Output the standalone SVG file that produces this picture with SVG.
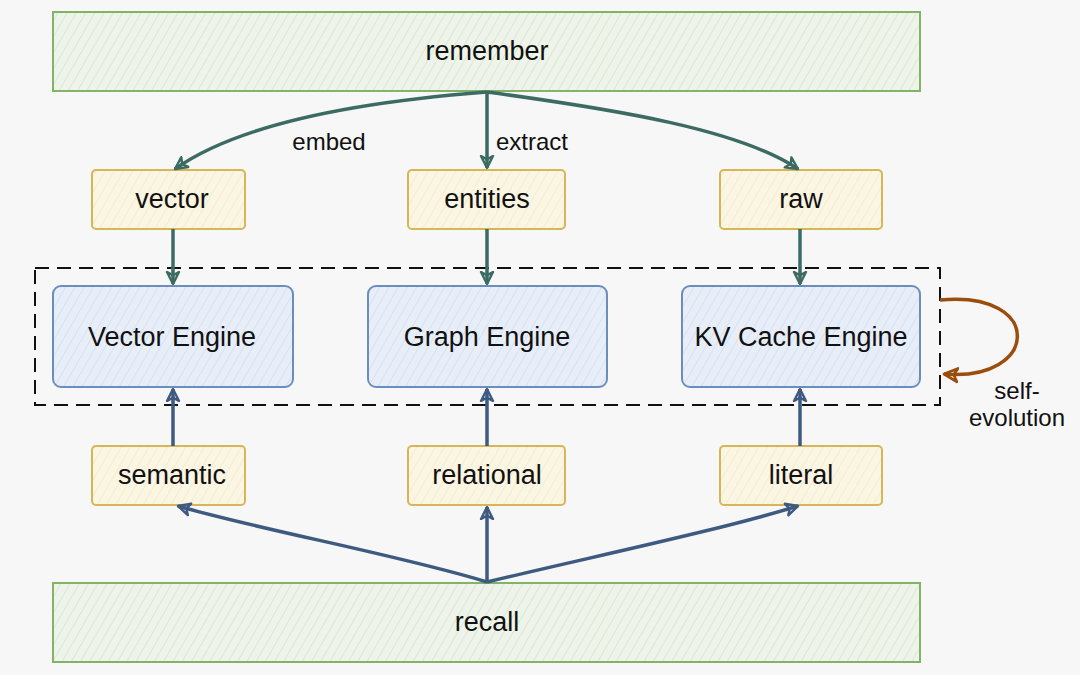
<svg xmlns="http://www.w3.org/2000/svg" width="1080" height="675" viewBox="0 0 1080 675">
<defs>
<pattern id="hg" width="8" height="8" patternUnits="userSpaceOnUse" patternTransform="rotate(30)"><rect width="8" height="8" fill="#eef4ea"/><line x1="0" y1="0" x2="0" y2="8" stroke="#c9e0c3" stroke-width="1.2"/></pattern>
<pattern id="hy" width="8" height="8" patternUnits="userSpaceOnUse" patternTransform="rotate(30)"><rect width="8" height="8" fill="#fbf5e4"/><line x1="0" y1="0" x2="0" y2="8" stroke="#f3e6bd" stroke-width="1.2"/></pattern>
<pattern id="hb" width="8" height="8" patternUnits="userSpaceOnUse" patternTransform="rotate(30)"><rect width="8" height="8" fill="#e8eef8"/><line x1="0" y1="0" x2="0" y2="8" stroke="#cad9f0" stroke-width="1.2"/></pattern>
<marker id="at" viewBox="0 0 12 12" refX="10" refY="6" markerWidth="16" markerHeight="16" markerUnits="userSpaceOnUse" orient="auto"><path d="M1,1.5 L10,6 L1,10.5 L3.5,6 Z" fill="none" stroke="#3c6b63" stroke-width="1.8" stroke-linejoin="round"/></marker>
<marker id="ab" viewBox="0 0 12 12" refX="10" refY="6" markerWidth="16" markerHeight="16" markerUnits="userSpaceOnUse" orient="auto"><path d="M1,1.5 L10,6 L1,10.5 L3.5,6 Z" fill="none" stroke="#3f5a80" stroke-width="1.8" stroke-linejoin="round"/></marker>
<marker id="ao" viewBox="0 0 12 12" refX="10" refY="6" markerWidth="18" markerHeight="18" markerUnits="userSpaceOnUse" orient="auto"><path d="M1,1.5 L10,6 L1,10.5 L3.5,6 Z" fill="none" stroke="#9a4d0c" stroke-width="1.8" stroke-linejoin="round"/></marker>
</defs>
<style>
text{font-family:"Liberation Sans",Arial,sans-serif;fill:#111;text-anchor:middle;dominant-baseline:central}
.n{font-size:27px}
.l{font-size:24px}
.g{fill:url(#hg);stroke:#82b366;stroke-width:2}
.y{fill:url(#hy);stroke:#d6b656;stroke-width:2}
.b{fill:url(#hb);stroke:#6c8ebf;stroke-width:2}
.et{fill:none;stroke:#3c6b63;stroke-width:3.5;marker-end:url(#at)}
.eb{fill:none;stroke:#3f5a80;stroke-width:3.5;marker-end:url(#ab)}
</style>
<rect width="1080" height="675" fill="#f7f7f7"/>
<g id="container"><rect x="35" y="268" width="905" height="137" fill="none" stroke="#111" stroke-width="2" stroke-dasharray="14 8"/></g>
<g id="remember"><rect class="g" x="53" y="12" width="867" height="79"/><text class="n" x="487" y="51">remember</text></g>
<g id="recall"><rect class="g" x="53" y="583" width="867" height="79"/><text class="n" x="487" y="622">recall</text></g>
<g id="vector"><rect class="y" x="92" y="170" width="153" height="59" rx="4"/><text class="n" x="172" y="199">vector</text></g>
<g id="entities"><rect class="y" x="408" y="170" width="157" height="59" rx="4"/><text class="n" x="487" y="199">entities</text></g>
<g id="raw"><rect class="y" x="720" y="170" width="162" height="59" rx="4"/><text class="n" x="801" y="199">raw</text></g>
<g id="semantic"><rect class="y" x="92" y="446" width="153" height="59" rx="4"/><text class="n" x="172" y="475">semantic</text></g>
<g id="relational"><rect class="y" x="408" y="446" width="157" height="59" rx="4"/><text class="n" x="487" y="475">relational</text></g>
<g id="literal"><rect class="y" x="720" y="446" width="162" height="59" rx="4"/><text class="n" x="801" y="475">literal</text></g>
<g id="vengine"><rect class="b" x="53" y="286" width="240" height="101" rx="8"/><text class="n" x="172" y="337">Vector Engine</text></g>
<g id="gengine"><rect class="b" x="368" y="286" width="239" height="101" rx="8"/><text class="n" x="487" y="337">Graph Engine</text></g>
<g id="kvengine"><rect class="b" x="682" y="286" width="238" height="101" rx="8"/><text class="n" x="801" y="337">KV Cache Engine</text></g>
<g id="connectors">
<path class="et" d="M487,92 C330,104 230,130 175,169"/>
<path class="et" d="M487,92 L487,168"/>
<path class="et" d="M487,92 C620,110 740,130 798,169"/>
<path class="et" d="M173,229 L173,284"/>
<path class="et" d="M487,229 L487,284"/>
<path class="et" d="M800,229 L800,284"/>
<path class="eb" d="M173,446 L173,389"/>
<path class="eb" d="M487,446 L487,389"/>
<path class="eb" d="M800,446 L800,389"/>
<path class="eb" d="M487,582 C400,555 260,530 178,506"/>
<path class="eb" d="M487,582 L487,507"/>
<path class="eb" d="M487,582 C600,555 720,530 798,506"/>
<path d="M940,300 C1045,290 1040,382 944,374" fill="none" stroke="#9a4d0c" stroke-width="3.5" marker-end="url(#ao)"/>
<text class="l" x="329" y="141">embed</text>
<text class="l" x="532" y="141">extract</text>
<text class="l" x="1017" y="390">self-</text>
<text class="l" x="1017" y="417">evolution</text>
</g>
</svg>
